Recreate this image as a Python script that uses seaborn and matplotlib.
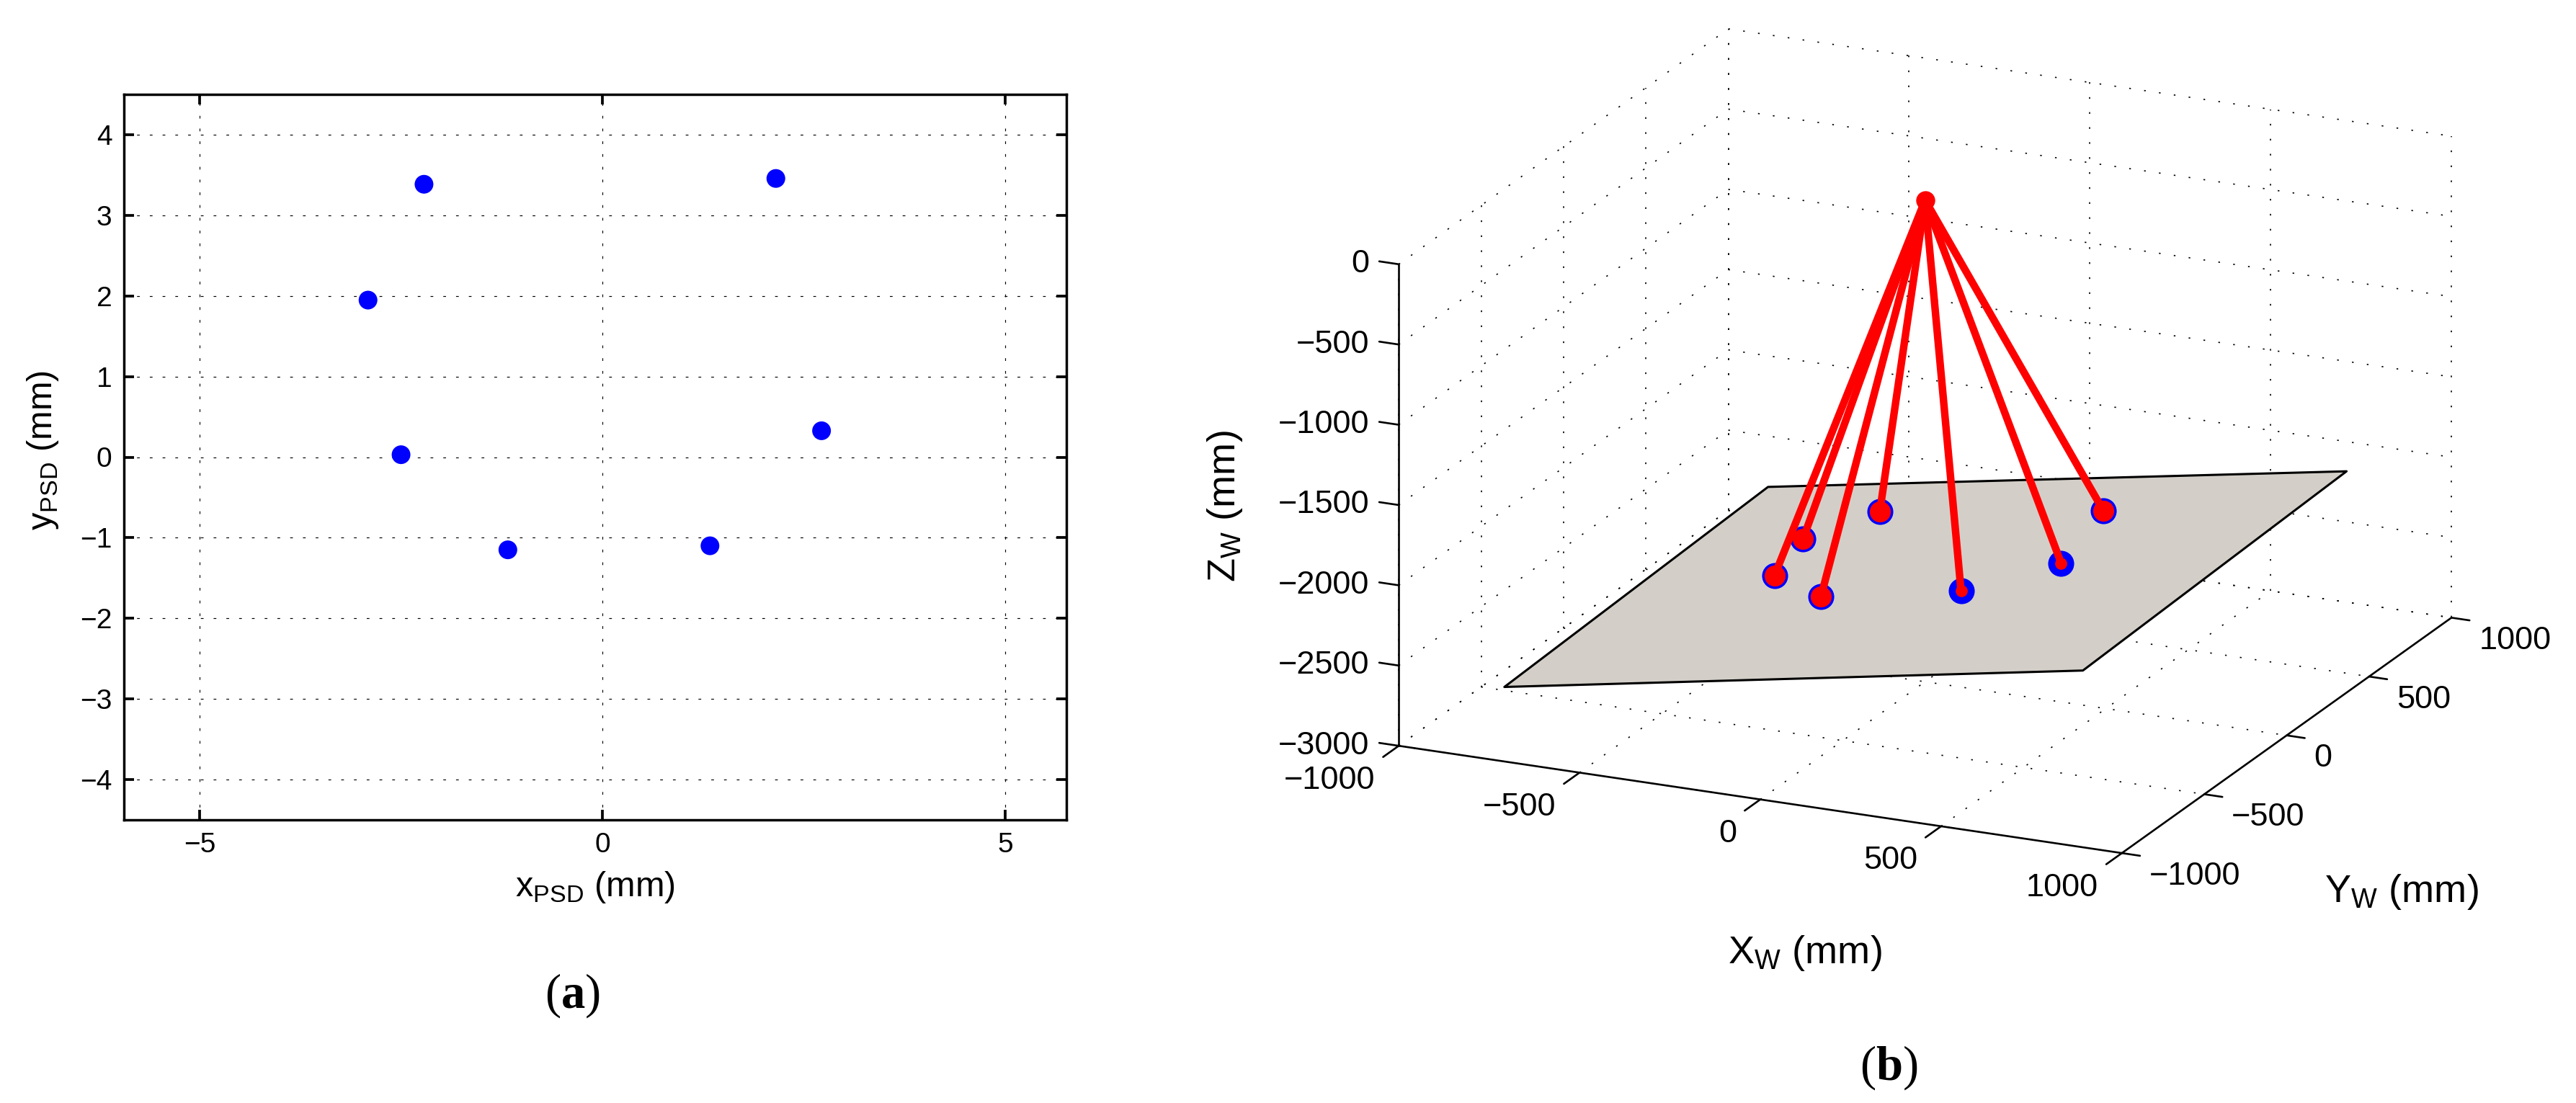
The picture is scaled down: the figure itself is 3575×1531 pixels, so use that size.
import matplotlib
matplotlib.use("Agg")
import matplotlib.pyplot as plt
import seaborn as sns
from mpl_toolkits.mplot3d import proj3d
from mpl_toolkits.mplot3d.art3d import Poly3DCollection

W, H = 3575, 1531

# panel (a): spots on the PSD
psd_x = [-2.215, 2.153, -2.91, -2.50, 2.72, -1.174, 1.335]
psd_y = [3.385, 3.457, 1.948, 0.03, 0.327, -1.15, -1.10]
psd_xticks = [-5, 0, 5]
psd_yticks = [-4, -3, -2, -1, 0, 1, 2, 3, 4]

# panel (b): world points on the tilted plane and the lens centre
foot_x = [-443, -500, -231, -385, 149, 332, 253]
foot_y = [58, 356, -125, 570, -109, 97, 526]
foot_z = [-2530, -2540, -2454, -2485, -2303, -2221, -2234]
foot_red_size = [21, 21, 21, 21, 12, 12, 21]
apex = [0, 0, 0]
plane_x = [-800, 800, 800, -800]
plane_y = [-800, -800, 800, 800]
plane_z = [-2711, -2074, -2006, -2638]
xy_ticks = [-1000, -500, 0, 500, 1000]
z_ticks = [-3000, -2500, -2000, -1500, -1000, -500, 0]


def lab(v):
    return str(v).replace("-", "\u2212")


sns.set_theme(style="ticks")
plt.rcParams["font.family"] = ["Liberation Sans", "DejaVu Sans"]
plt.rcParams["mathtext.fontset"] = "custom"
plt.rcParams["mathtext.rm"] = "Liberation Sans"
plt.rcParams["mathtext.bf"] = "Liberation Serif:bold"
plt.rcParams["axes.edgecolor"] = "black"
plt.rcParams["text.color"] = "black"

fig = plt.figure(figsize=(W / 100, H / 100), dpi=100, facecolor="white")

# ---- panel (a)
ax1 = fig.add_axes([172 / W, 1 - 1138 / H, 1308 / W, 1007 / H])
sns.scatterplot(x=psd_x, y=psd_y, ax=ax1, color="#0000ff", s=350, edgecolor="none", zorder=3)
ax1.set_xlim(-5.94, 5.76)
ax1.set_ylim(-4.5, 4.5)
ax1.set_xticks(psd_xticks, [lab(v) for v in psd_xticks])
ax1.set_yticks(psd_yticks, [lab(v) for v in psd_yticks])
ax1.grid(True, color="black", linestyle=(0, (3.2, 11.8)), linewidth=0.85)
ax1.tick_params(direction="in", top=True, right=True, length=10, width=2.7, labelsize=28,
                labelcolor="black", color="black", pad=12)
for s in ax1.spines.values():
    s.set_linewidth(2.5)
    s.set_color("black")

fig.text(826 / W, 1 - 1232 / H, r"x$_{\mathrm{PSD}}$ (mm)", fontsize=35, ha="center", va="center")
fig.text(60 / W, 1 - 625 / H, r"y$_{\mathrm{PSD}}$ (mm)", fontsize=35, ha="center", va="center", rotation=90)
fig.text(794 / W, 1 - 1382 / H, r"($\mathbf{a}$)", fontsize=48, ha="center", va="center",
         family="Liberation Serif")

# ---- panel (b)
ax = fig.add_axes([1906 / W, 0, 1531 / W, 1], projection="3d", proj_type="ortho", computed_zorder=False)
ax.view_init(elev=19, azim=-65.5)
ax.set_xlim(-1000, 1000, view_margin=0)
ax.set_ylim(-1000, 1000, view_margin=0)
ax.set_zlim(-3000, 0, view_margin=0)
aspect = (1103, 1103, 707)
ax.set_box_aspect(aspect, zoom=1)
ax.set_axis_off()
ax.patch.set_alpha(0)


def to_px(x, y, z):
    X, Y, _ = proj3d.proj_transform(x, y, z, ax.get_proj())
    return ax.transData.transform((X, Y))


# fit the projected box onto the place it has in the figure
ax.apply_aspect()
a0 = to_px(-1000, -1000, -3000)
b0 = to_px(1000, -1000, -3000)
ax.set_box_aspect(aspect, zoom=1003.6 / (b0[0] - a0[0]))
ax.apply_aspect()
a0 = to_px(-1000, -1000, -3000)
pos = ax.get_position(original=True)
ax.set_position([pos.x0 + (1941.2 - a0[0]) / W, pos.y0 + ((H - 1035.2) - a0[1]) / H, pos.width, pos.height])
ax.apply_aspect()

dot = dict(color="black", linestyle=(0, (1.4, 11.1)), linewidth=1.2, zorder=1, clip_on=False)
solid = dict(color="black", linewidth=1.9, zorder=6, clip_on=False)

# grid on the three back faces
for v in xy_ticks:
    ax.plot([v, v], [1000, 1000], [-3000, 0], **dot)
    ax.plot([-1000, -1000], [v, v], [-3000, 0], **dot)
    ax.plot([v, v], [-1000, 1000], [-3000, -3000], **dot)
    ax.plot([-1000, 1000], [v, v], [-3000, -3000], **dot)
for v in z_ticks:
    ax.plot([-1000, 1000], [1000, 1000], [v, v], **dot)
    ax.plot([-1000, -1000], [-1000, 1000], [v, v], **dot)

# plane
plane = Poly3DCollection([list(zip(plane_x, plane_y, plane_z))], facecolor="#d3cfc8",
                         edgecolor="black", linewidth=2.2, zorder=2)
ax.add_collection3d(plane)

# axis lines and ticks
ax.plot([-1000, -1000], [-1000, -1000], [-3000, 0], **solid)
ax.plot([-1000, 1000], [-1000, -1000], [-3000, -3000], **solid)
ax.plot([1000, 1000], [-1000, 1000], [-3000, -3000], **solid)
for v in xy_ticks:
    ax.plot([v, v], [-1000, -1095], [-3000, -3000], **solid)
    ax.plot([1000, 1050], [v, v], [-3000, -3000], **solid)
for v in z_ticks:
    ax.plot([-1000, -1054], [-1000, -1000], [v, v], **solid)

# rays and points
ax.plot(foot_x, foot_y, foot_z, linestyle="none", marker="o", markersize=26, color="#0000ff",
        markeredgewidth=0, zorder=3, clip_on=False)
for fx, fy, fz, fs in zip(foot_x, foot_y, foot_z, foot_red_size):
    ax.plot([apex[0], fx], [apex[1], fy], [apex[2], fz], color="#ff0000", linewidth=7.5, zorder=4,
            clip_on=False, solid_capstyle="butt")
    ax.plot([fx], [fy], [fz], linestyle="none", marker="o", markersize=fs, color="#ff0000",
            markeredgewidth=0, zorder=5, clip_on=False)
ax.plot([apex[0]], [apex[1]], [apex[2]], linestyle="none", marker="o", markersize=19, color="#ff0000",
        markeredgewidth=0, zorder=5, clip_on=False)

# tick labels, placed from the projected tick positions
for v in z_ticks:
    p = to_px(-1000, -1000, v)
    fig.text((p[0] - 41) / W, p[1] / H, lab(v), fontsize=32.5, ha="right", va="center")
for v in xy_ticks:
    p = to_px(v, -1000, -3000)
    fig.text((p[0] - 33) / W, (p[1] - 48) / H, lab(v), fontsize=32.5, ha="right", va="center")
    p = to_px(1000, v, -3000)
    fig.text((p[0] + 38) / W, (p[1] - 32) / H, lab(v), fontsize=32.5, ha="left", va="center")

fig.text(1700 / W, 1 - 703 / H, r"Z$_{\mathrm{W}}$ (mm)", fontsize=39, ha="center", va="center", rotation=90)
fig.text(2505 / W, 1 - 1323 / H, r"X$_{\mathrm{W}}$ (mm)", fontsize=39, ha="center", va="center")
fig.text(3333 / W, 1 - 1238 / H, r"Y$_{\mathrm{W}}$ (mm)", fontsize=39, ha="center", va="center")
fig.text(2621 / W, 1 - 1482 / H, r"($\mathbf{b}$)", fontsize=48, ha="center", va="center",
         family="Liberation Serif")

fig.savefig("out.png", dpi=100, facecolor="white")
